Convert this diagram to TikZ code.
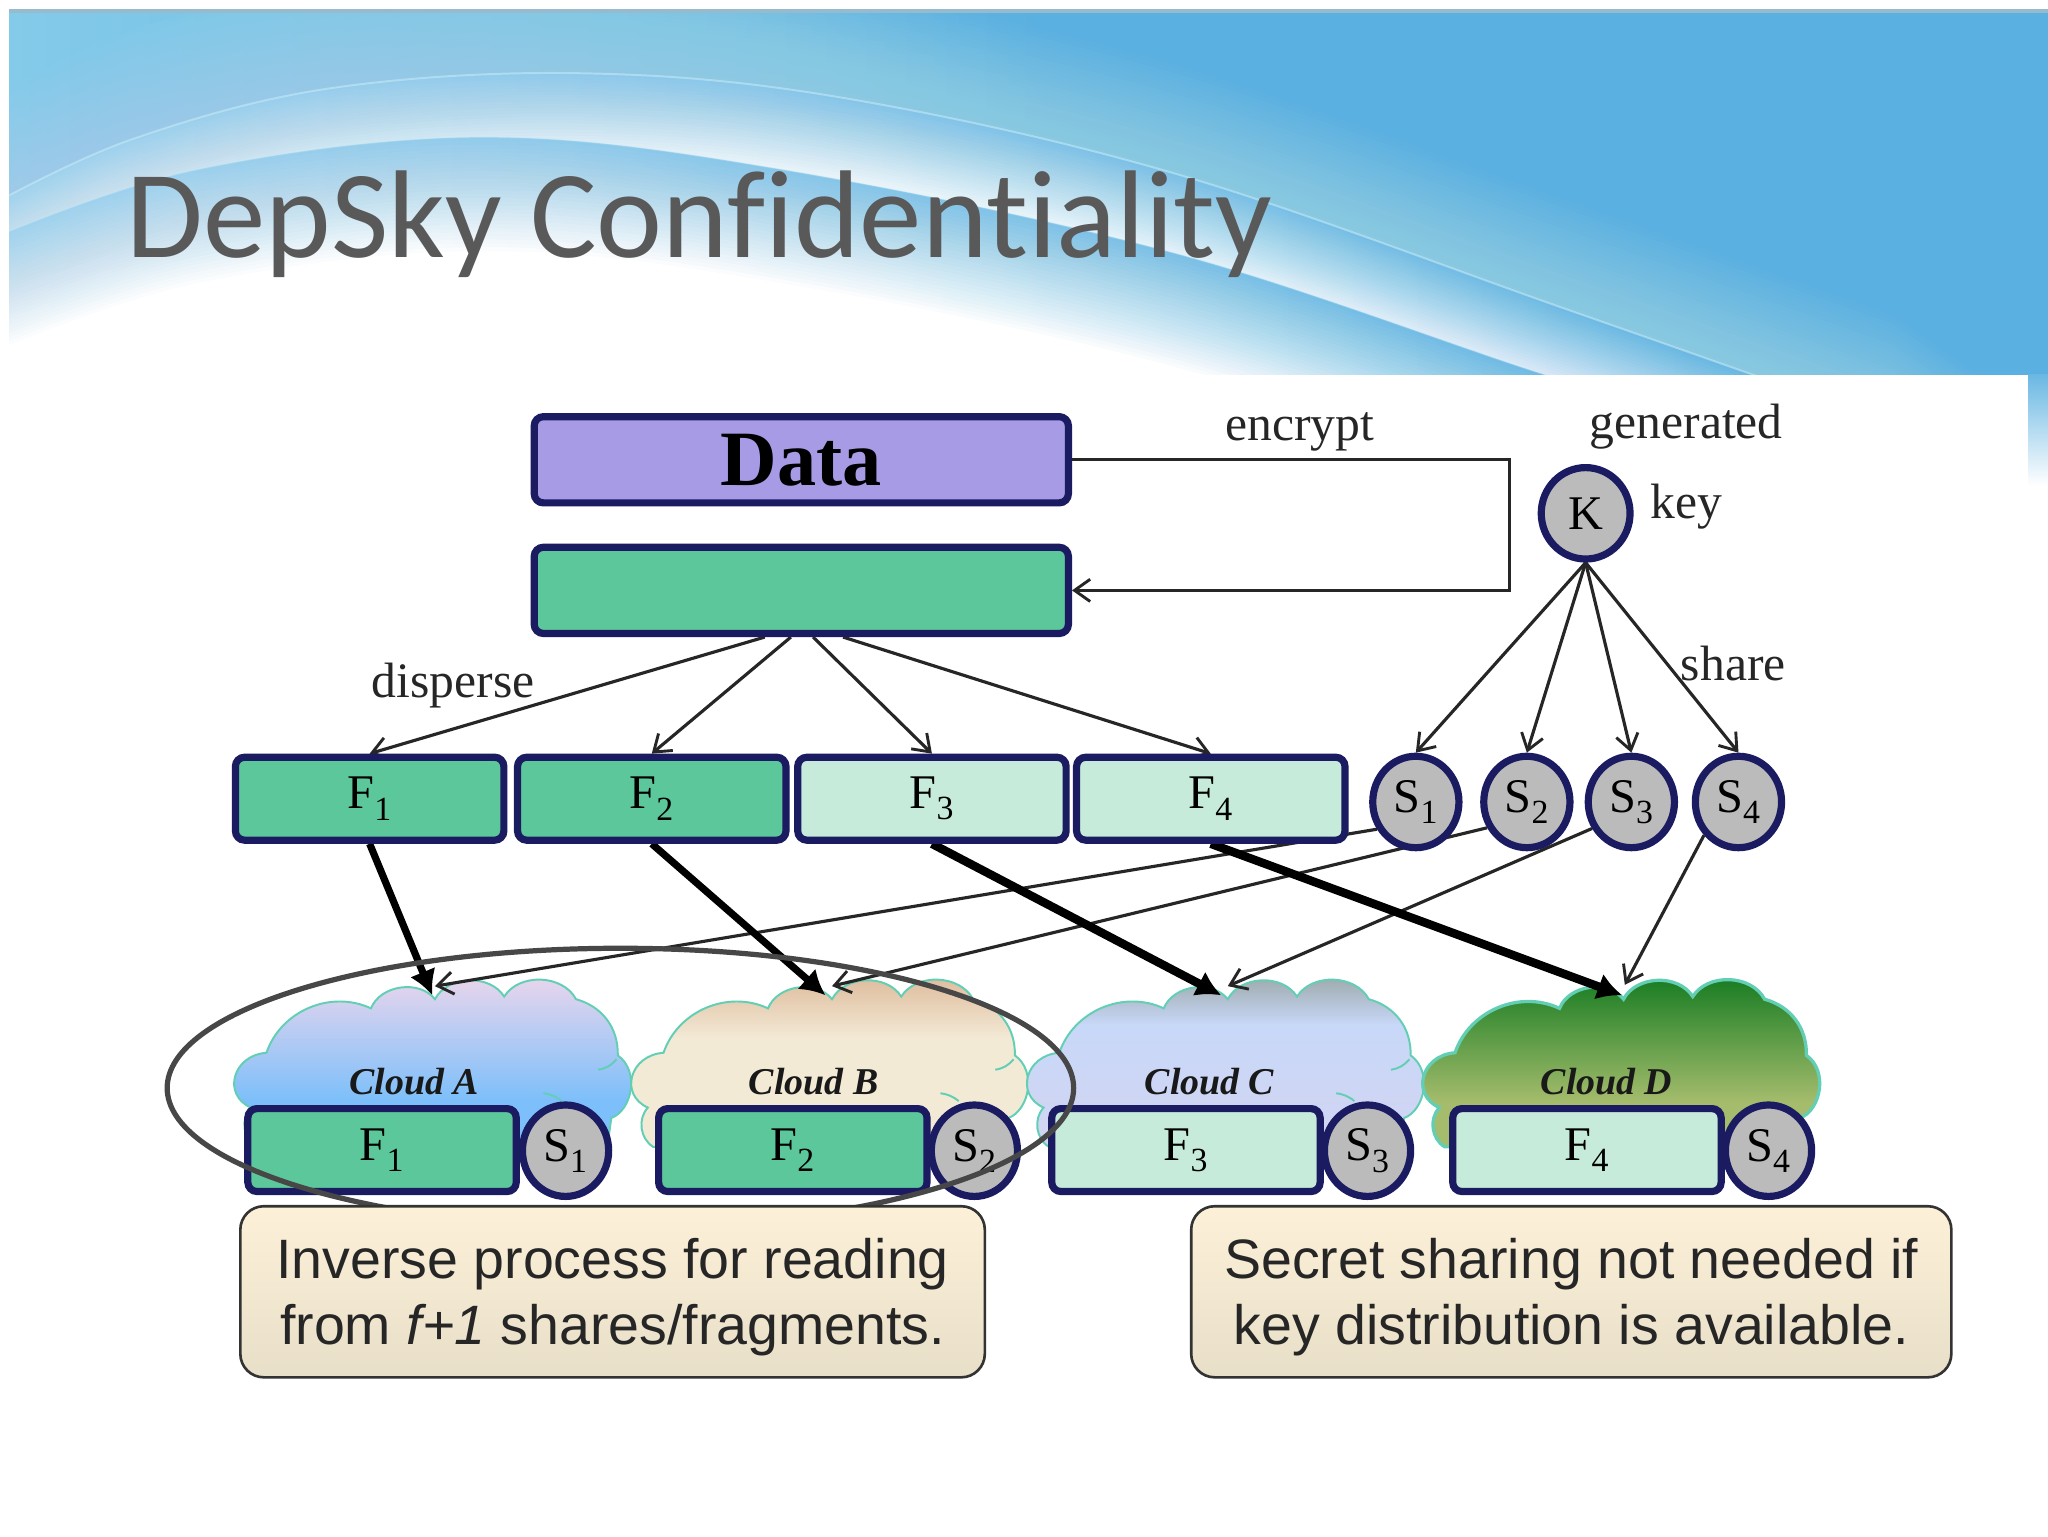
\documentclass[tikz,border=0pt]{standalone}
\usepackage{fontspec}
\setmainfont{Liberation Serif}
\setsansfont{Liberation Sans}
\newfontfamily\titlefont[Ligatures=NoCommon]{Carlito}
\usetikzlibrary{arrows.meta,shapes.geometric,calc}
\pgfdeclarelayer{back}\pgfdeclarelayer{cloudl}\pgfdeclarelayer{conn}
\pgfsetlayers{back,cloudl,conn,main}
\definecolor{navy}{HTML}{1B1B62}
\definecolor{gdark}{HTML}{5CC79A}
\definecolor{glight}{HTML}{C6EBDA}
\definecolor{sgray}{HTML}{BBBBBB}
\definecolor{skyb}{HTML}{5AB0E0}
\definecolor{skyl}{HTML}{84CAE9}
\definecolor{glow}{HTML}{C8ECF8}
\definecolor{cedge}{HTML}{62CFB4}
\definecolor{purpleb}{HTML}{A79BE6}
\definecolor{calltop}{HTML}{FDF0D8}
\definecolor{callbot}{HTML}{E8DFC8}
\definecolor{catop}{HTML}{ECD6EC}
\definecolor{cabot}{HTML}{7CBFFA}
\definecolor{cbtop}{HTML}{DDB999}
\definecolor{cbbot}{HTML}{F3EAD6}
\definecolor{cctop}{HTML}{9AA6A6}
\definecolor{ccmid}{HTML}{C8D8F8}
\definecolor{ccbot}{HTML}{D2D4F2}
\definecolor{cdtop}{HTML}{137A20}
\definecolor{cdbot}{HTML}{A4BC6C}
\pgfdeclareverticalshading{cashade}{100bp}{color(0bp)=(cabot); color(38bp)=(cabot); color(75bp)=(catop); color(100bp)=(catop)}
\pgfdeclareverticalshading{cbshade}{100bp}{color(0bp)=(cbbot); color(56bp)=(cbbot); color(75bp)=(cbtop); color(100bp)=(cbtop)}
\pgfdeclareverticalshading{ccshade}{100bp}{color(0bp)=(ccbot); color(25bp)=(ccbot); color(60bp)=(ccmid); color(75bp)=(cctop); color(100bp)=(cctop)}
\pgfdeclareverticalshading{cdshade}{100bp}{color(0bp)=(cdbot); color(38bp)=(cdbot); color(75bp)=(cdtop); color(100bp)=(cdtop)}
\newcommand{\fsz}[1]{\fontsize{#1}{#1}\selectfont}
\newcommand{\outerc}{plot[smooth,tension=.6] coordinates {(-5,156)(100,107)(250,68)(440,56)(640,74)(900,133)(1200,237)(1450,325)}}
\newcommand{\innerc}{plot[smooth,tension=.6] coordinates {(-5,182)(150,130)(370,105)(600,130)(900,194)(1180,286)(1300,320)}}
\newcommand{\cloudpath}{(192,848) .. controls (170,838) and (178,808) .. (204,806) to[bend left=48] (284,772) to[bend left=60] (333,765) to[bend left=60] (386,763) to[bend left=60] (441,765) to[bend left=38] (473,808) .. controls (490,820) and (484,850) .. (468,856) -- (465,878) -- (196,878) to[bend left=50] (192,848) -- cycle}
\newcommand{\cloudmarks}{(472,811) to[bend left=20] (458,819) (416,837) to[bend left=15] (430,843)}
\tikzset{
  boxn/.style={draw=navy,line width=5.5pt,rounded corners=7pt,minimum width=205.5pt,minimum height=63.5pt,inner sep=0pt,font=\fsz{37}},
  wide/.style={boxn,minimum width=409pt,minimum height=66pt},
  circn/.style={ellipse,draw=navy,line width=5.5pt,fill=sgray,minimum width=66pt,minimum height=70pt,inner sep=0pt,font=\fsz{37}},
  lab/.style={font=\fsz{38},inner sep=0pt,text=black!85},
  cloudlab/.style={font=\fsz{29}\bfseries\itshape,inner sep=0pt,text=black!90},
  callout/.style={draw=black!80,line width=2pt,rounded corners=18pt,top color=calltop,bottom color=callbot,minimum height=131pt,inner sep=0pt},
  callouttext/.style={inner sep=0pt,font=\sffamily\fontsize{42.5}{51}\selectfont,align=center,text=black!85},
  thinar/.style={draw=black!85,line width=2.4pt,-{Straight Barb[length=12pt,width=17pt,line width=2.2pt]}},
  thickar/.style={draw=black,line width=6.5pt,-{Latex[length=19pt,width=21pt]}},
  cloudo/.style={draw=cedge,line width=1.5pt}
}
\begin{document}
\begin{tikzpicture}[x=1pt,y=-1pt]
\useasboundingbox (0,0) rectangle (1568,1176);
% banner
\begin{pgfonlayer}{back}
\fill[white] (0,0) rectangle (1568,1176);
\begin{scope}
\clip (7,7) rectangle (1568,287);
\shade[left color=skyl,right color=skyb] (7,7) rectangle (800,287);
\fill[skyb] (799,7) rectangle (1568,287);
\foreach \i in {1,...,26}{
  \begin{scope}[yshift=\i*3.2pt]
  \fill[glow,opacity=.028] \outerc -- (1700,500) -- (-50,500) -- cycle;
  \end{scope}}
\shade[left color=skyb!55!white,middle color=skyb,right color=skyb] \outerc -- (1700,500) -- (-50,500) -- cycle;
\foreach \i in {1,...,30}{
  \pgfmathsetmacro{\op}{1/(31-\i)}
  \begin{scope}[yshift=-\i*2.4pt]
  \fill[white,opacity=\op] \outerc -- (1700,500) -- (-50,500) -- cycle;
  \end{scope}}
\shade[left color=skyb!55!white,middle color=skyb,right color=skyb] \innerc -- (1700,500) -- (-50,500) -- cycle;
\foreach \i in {1,...,30}{
  \pgfmathsetmacro{\op}{1/(31-\i)}
  \begin{scope}[yshift=-\i*2.9pt]
  \fill[white,opacity=\op] \innerc -- (1700,500) -- (-50,500) -- cycle;
  \end{scope}}
\draw[glow,opacity=.55,line width=1.5pt] \outerc;
\draw[glow,opacity=.35,line width=1pt] \innerc;
\fill[skyb!60!gray!70!white] (7,7) rectangle (1568,10);
\end{scope}
\fill[white] (0,287) rectangle (1553,1176);
\shade[top color=skyb!90!white,bottom color=white] (1553,287) rectangle (1568,372);
\end{pgfonlayer}
% clouds
\begin{pgfonlayer}{cloudl}
\path[shading=cashade] \cloudpath;
\draw[cloudo] \cloudpath;
\draw[cloudo] \cloudmarks;
\begin{scope}[xshift=304pt]
\path[shading=cbshade] \cloudpath;
\draw[cloudo] \cloudpath;
\draw[cloudo] \cloudmarks;
\end{scope}
\begin{scope}[xshift=607pt]
\path[shading=ccshade] \cloudpath;
\draw[cloudo] \cloudpath;
\draw[cloudo] \cloudmarks;
\end{scope}
\begin{scope}[xshift=910pt]
\path[shading=cdshade] \cloudpath;
\draw[cloudo,line width=2.5pt] \cloudpath;
\end{scope}
\end{pgfonlayer}
\coordinate (ca) at (331,762); \coordinate (cat) at (333,755);
\coordinate (cb) at (632,762); \coordinate (cbt) at (637,755);
\coordinate (cc) at (935,762); \coordinate (cct) at (940,755);
\coordinate (cd) at (1242,762); \coordinate (cdt) at (1244,754);
% title
\node[anchor=base west,inner sep=0pt,text=black!65] (title) at (97,197) {\titlefont\fsz{95.6}DepSky Confidentiality};
% top boxes
\node[wide,fill=purpleb,font=\fsz{60}\bfseries] (data) at (613.5,352) {Data};
\node[wide,fill=gdark] (enc) at (613.5,452) {};
\node[circn,minimum width=68pt] (k) at (1214,393) {K};
% fragments
\node[boxn,fill=gdark] (f1) at (283,611.5) {F\textsubscript{1}};
\node[boxn,fill=gdark] (f2) at (499,611.5) {F\textsubscript{2}};
\node[boxn,fill=glight] (f3) at (713.5,611.5) {F\textsubscript{3}};
\node[boxn,fill=glight] (f4) at (927,611.5) {F\textsubscript{4}};
\node[circn] (s1) at (1084,614) {S\textsubscript{1}};
\node[circn] (s2) at (1169,614) {S\textsubscript{2}};
\node[circn] (s3) at (1249,614) {S\textsubscript{3}};
\node[circn] (s4) at (1331,614) {S\textsubscript{4}};
% stored
\node[boxn,fill=gdark] (g1) at (292.5,880.5) {F\textsubscript{1}};
\node[boxn,fill=gdark] (g2) at (607,880.5) {F\textsubscript{2}};
\node[boxn,fill=glight] (g3) at (908,880.5) {F\textsubscript{3}};
\node[boxn,fill=glight] (g4) at (1215,880.5) {F\textsubscript{4}};
\node[circn] (t1) at (433,881) {S\textsubscript{1}};
\node[circn] (t2) at (746,881) {S\textsubscript{2}};
\node[circn] (t3) at (1047,881) {S\textsubscript{3}};
\node[circn] (t4) at (1354,881) {S\textsubscript{4}};
% labels
\node[lab] (lenc) at (995,331) {encrypt};
\node[lab] (lgen) at (1291,327) {generated};
\node[lab] (lkey) at (1291,388) {key};
\node[lab] (lsha) at (1327,508) {share};
\node[lab] (ldis) at (347,525) {disperse};
\node[cloudlab] (na) at (317,828) {Cloud A};
\node[cloudlab] (nb) at (623,828) {Cloud B};
\node[cloudlab] (nc) at (926,828) {Cloud C};
\node[cloudlab] (nd) at (1230,828) {Cloud D};
% connectors
\begin{pgfonlayer}{conn}
\draw[thinar] (data.east) -| (1156,452) -- (enc.east);
\draw[thinar] ([xshift=-28pt]enc.south) -- (f1.north);
\draw[thinar] ([xshift=-8pt]enc.south) -- (f2.north);
\draw[thinar] ([xshift=9pt]enc.south) -- (f3.north);
\draw[thinar] ([xshift=32pt]enc.south) -- (f4.north);
\draw[thinar] (k.south) -- (s1.north);
\draw[thinar] (k.south) -- (s2.north);
\draw[thinar] (k.south) -- (s3.north);
\draw[thinar] (k.south) -- (s4.north);
\draw[thinar] (s1.215) -- (cat);
\draw[thinar] (s2.213) -- (cbt);
\draw[thinar] (s3.214) -- (cct);
\draw[thinar] (s4.224) -- (cdt);
\draw[thickar,line width=5.5pt] (f1.south) -- (ca);
\draw[thickar,line width=5.5pt] (f2.south) -- (cb);
\draw[thickar] (f3.south) -- (cc);
\draw[thickar] (f4.south) -- (cd);
\end{pgfonlayer}
% grouping ellipse and callouts
\node[ellipse,draw=black!72,line width=4pt,minimum width=694pt,minimum height=214pt,inner sep=0pt] (grp) at (475,833) {};
\node[callout,minimum width=570pt] (c1) at (469,989) {};
\node[callouttext] (c1t) at (469,993) {Inverse process for reading\\from {\itshape f+1} shares/fragments.};
\node[callout,minimum width=582pt] (c2) at (1203,989) {};
\node[callouttext] (c2t) at (1203,993) {Secret sharing not needed if\\key distribution is available.};
\end{tikzpicture}
\end{document}
